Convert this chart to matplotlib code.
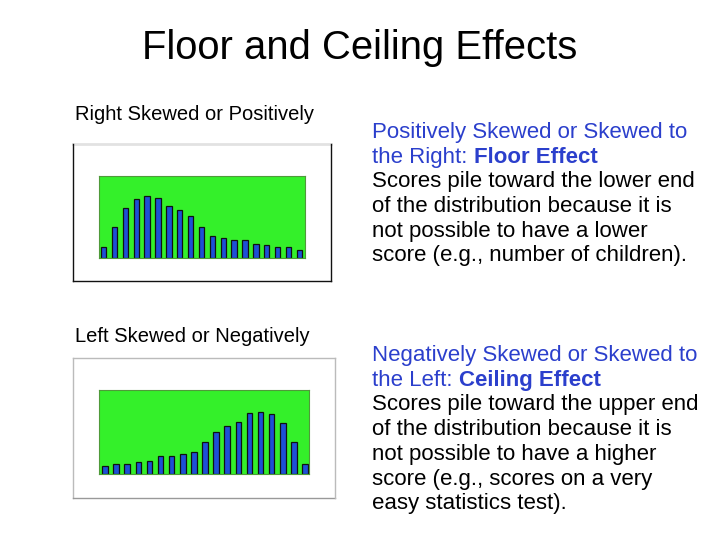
import numpy as np
import matplotlib
matplotlib.use("Agg")
import matplotlib.pyplot as plt
from matplotlib.patches import Rectangle
from matplotlib.lines import Line2D

plt.rcParams['font.family'] = ['Liberation Sans', 'DejaVu Sans']

# ---------------- data ----------------
title = "Floor and Ceiling Effects"
right_label = "Right Skewed or Positively"
left_label = "Left Skewed or Negatively"

# bar heights (frequencies), 19 score bins each
right_skew = [31, 93, 148, 176, 184, 179, 154, 142, 124, 93, 65, 58, 53, 53, 40, 37, 31, 31, 23]
left_skew = [22, 29, 29, 35, 39, 53, 53, 59, 65, 94, 125, 143, 156, 182, 185, 179, 151, 94, 29]

right_head = ["Positively Skewed or Skewed to", "the Right: ", "Floor Effect"]
right_body = ["Scores pile toward the lower end",
              "of the distribution because it is",
              "not possible to have a lower",
              "score (e.g., number of children)."]
left_head = ["Negatively Skewed or Skewed to", "the Left: ", "Ceiling Effect"]
left_body = ["Scores pile toward the upper end",
             "of the distribution because it is",
             "not possible to have a higher",
             "score (e.g., scores on a very",
             "easy statistics test)."]

W, H = 720, 540
GREEN = '#34f02a'
BAR = '#1d50d6'
BLUE = '#2b3fcc'

fig = plt.figure(figsize=(W / 100, H / 100), dpi=100)


def fx(px):
    return px / W


def fy(py):
    return 1 - py / H


def frame(box, edges):
    # white frame behind the histogram, edges = (top, left, bottom, right) colours
    x0, y0, x1, y1 = box
    fig.patches.append(Rectangle((fx(x0), fy(y1)), fx(x1 - x0), (y1 - y0) / H,
                                 transform=fig.transFigure, facecolor='white',
                                 edgecolor='none', zorder=-1))
    segs = [((x0, x1), (y0, y0)), ((x0, x0), (y0, y1)),
            ((x0, x1), (y1, y1)), ((x1, x1), (y0, y1))]
    for (xs, ys), c in zip(segs, edges):
        lw = 2.0 if c == '#e2e2e2' else 1.0
        fig.lines.append(Line2D([fx(v) for v in xs], [fy(v) for v in ys],
                                transform=fig.transFigure, color=c, lw=lw, zorder=-0.5))


def panel(area, values, xlim, ymax):
    ax = fig.add_axes(area)
    ax.set_zorder(2)
    ax.set_facecolor(GREEN)
    ax.bar(np.arange(len(values)), values, width=0.5, color=BAR,
           edgecolor='#111111', linewidth=0.9)
    ax.set_xlim(*xlim)
    ax.set_ylim(0, ymax)
    ax.set_xticks([])
    ax.set_yticks([])
    for s in ax.spines.values():
        s.set_color('#4f9a3a')
        s.set_linewidth(0.8)
    return ax


def text_block(x, y0, head, body, step=24.7):
    fs = 16
    fig.text(fx(x), fy(y0), head[0], color=BLUE, fontsize=fs, va='baseline')
    t2 = fig.text(fx(x), fy(y0 + step), head[1], color=BLUE, fontsize=fs, va='baseline')
    fig.canvas.draw()
    bb = t2.get_window_extent()
    fig.text(bb.x1 / W, fy(y0 + step), head[2], color=BLUE, fontsize=fs,
             fontweight='bold', va='baseline')
    for i, line in enumerate(body):
        fig.text(fx(x), fy(y0 + step * (i + 2)), line, color='black',
                 fontsize=fs, va='baseline')


fig.text(fx(359.5), fy(59), title, fontsize=28.8, ha='center', va='baseline')
fig.text(fx(75), fy(120), right_label, fontsize=14.5, va='baseline')
fig.text(fx(75), fy(342), left_label, fontsize=14.5, va='baseline')

frame((72.5, 144, 330.5, 280.5), ('#e2e2e2', '#111111', '#111111', '#111111'))
frame((73, 358, 335, 498), ('#bbbbbb', '#bbbbbb', '#999999', '#bbbbbb'))

panel([fx(99.3), fy(257.7), fx(305) - fx(99.3), (257.7 - 175.7) / H],
      right_skew, (-0.40, 18.52), 246)
panel([fx(99.3), fy(473.7), fx(309.3) - fx(99.3), (473.7 - 390) / H],
      left_skew, (-0.51, 18.39), 251)

text_block(372, 138, right_head, right_body)
text_block(372, 361, left_head, left_body)

fig.savefig("out.png", dpi=100)
